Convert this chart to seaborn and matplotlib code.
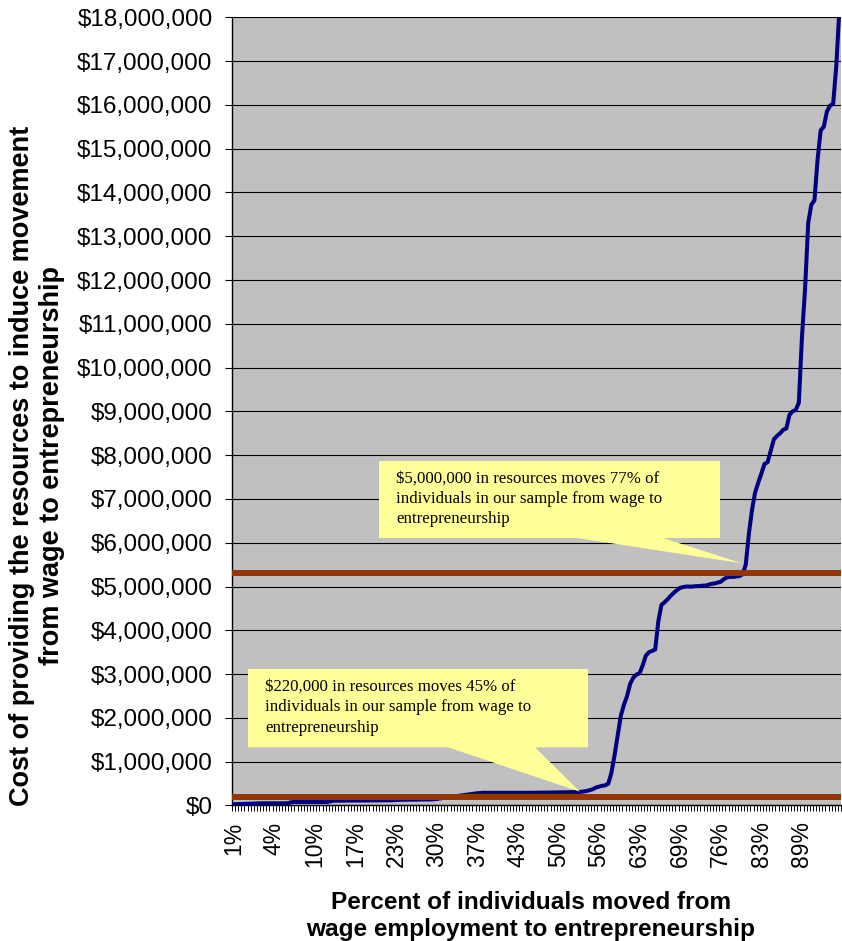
import matplotlib
matplotlib.use("Agg")
import matplotlib.pyplot as plt
from matplotlib.patches import Polygon
from matplotlib.ticker import FuncFormatter, FixedLocator
import seaborn as sns
import numpy as np
import pandas as pd

# ---------------- data ----------------
n_categories = 195
tick_label_positions = [0, 13, 26, 39, 52, 65, 78, 91, 104, 117, 130, 143, 156, 169, 182]
tick_labels = ["1%", "4%", "10%", "17%", "23%", "30%", "37%", "43%", "50%",
               "56%", "63%", "69%", "76%", "83%", "89%"]

low_idx = [0, 9, 17, 19, 30, 32, 51, 53, 64, 66, 72, 78, 80, 95, 105, 111, 113]
low_cost_m = [0.03, 0.05, 0.05, 0.08, 0.08, 0.11, 0.12, 0.13, 0.14, 0.16, 0.22,
              0.28, 0.29, 0.29, 0.30, 0.31, 0.33]
high_idx = list(range(115, 195))
high_cost_m = [0.37, 0.41, 0.43, 0.45, 0.46, 0.50, 0.75, 1.15, 1.60, 2.05,
               2.30, 2.50, 2.78, 2.92, 2.99, 3.02, 3.20, 3.42, 3.50, 3.53,
               3.56, 4.20, 4.58, 4.64, 4.71, 4.79, 4.86, 4.92, 4.97, 4.99,
               5.00, 5.00, 5.00, 5.01, 5.01, 5.02, 5.02, 5.04, 5.06, 5.07,
               5.09, 5.11, 5.17, 5.21, 5.22, 5.22, 5.23, 5.24, 5.28, 5.50,
               6.20, 6.75, 7.15, 7.37, 7.58, 7.80, 7.84, 8.10, 8.36, 8.44,
               8.50, 8.58, 8.61, 8.92, 9.00, 9.03, 9.20, 10.70, 11.80, 13.30,
               13.72, 13.82, 14.75, 15.42, 15.50, 15.85, 15.98, 16.03, 16.90, 18.20]

ref_lines = [200_000, 5_300_000]

note_high = "\\$5,000,000 in resources moves 77% of\nindividuals in our sample from wage to\nentrepreneurship"
note_low = "\\$220,000 in resources moves 45% of\nindividuals in our sample from wage to\nentrepreneurship"
y_title = "Cost of providing the resources to induce movement\nfrom wage to entrepreneurship"
x_title = "Percent of individuals moved from\nwage employment to entrepreneurship"

df = pd.DataFrame({
    "idx": low_idx + high_idx,
    "cost": np.array(low_cost_m + high_cost_m) * 1_000_000,
})

# ---------------- plot ----------------
sns.set_style("ticks")
plt.rcParams["font.family"] = ["Liberation Sans", "DejaVu Sans"]
plt.rcParams["text.color"] = "black"
plt.rcParams["xtick.color"] = "black"
plt.rcParams["ytick.color"] = "black"
plt.rcParams["axes.labelcolor"] = "black"

fig = plt.figure(figsize=(8.42, 9.41), dpi=100)
ax = fig.add_axes([0.27553, 0.14400, 0.72328, 0.83762])
ax.set_facecolor("#C0C0C0")

ax.set_ylim(0, 18_000_000)
ax.set_xlim(-0.5, n_categories - 0.5)
ax.yaxis.set_major_locator(FixedLocator(np.arange(0, 18_000_001, 1_000_000)))
ax.yaxis.set_major_formatter(FuncFormatter(lambda v, p: "\\$" + f"{v:,.0f}"))
ax.grid(axis="y", color="black", linewidth=0.8, zorder=1)
ax.set_axisbelow(True)

sns.lineplot(data=df, x="idx", y="cost", ax=ax, color="#000080",
             linewidth=2.9, zorder=3, legend=False)

for v in ref_lines:
    ax.axhline(v, color="#993300", linewidth=4.3, zorder=4)

ax.set_xticks(tick_label_positions)
ax.set_xticklabels(tick_labels, rotation=90)
ax.set_xticks(np.arange(n_categories + 1) - 0.5, minor=True)
ax.tick_params(axis="x", which="major", length=0, pad=11.5, labelsize=16.5,
               labelcolor="black")
ax.tick_params(axis="x", which="minor", length=4.3, width=0.7, color="black")
ax.tick_params(axis="y", which="major", length=5, width=0.8, pad=9.0,
               labelsize=17.5, color="black", labelcolor="black")
ax.set_xlabel("")
ax.set_ylabel("")
for s in ["top", "right"]:
    ax.spines[s].set_visible(False)
for s in ["left", "bottom"]:
    ax.spines[s].set_color("black")
    ax.spines[s].set_linewidth(1.0)

# callouts (axes-fraction coordinates)
box_hi = [(0.2414, 0.3394), (0.5665, 0.3394), (0.8369, 0.3073), (0.7077, 0.3394),
          (0.8013, 0.3394), (0.8013, 0.4371), (0.2414, 0.4371)]
box_lo = [(0.0263, 0.0738), (0.3547, 0.0738), (0.5714, 0.0175), (0.4975, 0.0738),
          (0.5846, 0.0738), (0.5846, 0.1732), (0.0263, 0.1732)]
for verts in (box_hi, box_lo):
    ax.add_patch(Polygon(verts, closed=True, transform=ax.transAxes,
                         facecolor="#FFFF99", edgecolor="none", zorder=6,
                         clip_on=False))

ax.text(0.2693, 0.4245, note_high, transform=ax.transAxes, ha="left", va="top",
        fontsize=12.2, family=["Liberation Serif", "DejaVu Serif"],
        linespacing=1.32, zorder=7, color="black")
ax.text(0.0542, 0.1610, note_low, transform=ax.transAxes, ha="left", va="top",
        fontsize=12.2, family=["Liberation Serif", "DejaVu Serif"],
        linespacing=1.4, zorder=7, color="black")

fig.text(0.0445, 0.5048, y_title, rotation=90, ha="center", va="center",
         multialignment="center", fontsize=19.5, fontweight="bold",
         linespacing=1.2, color="black")
fig.text(0.6306, 0.0270, x_title, ha="center", va="center",
         multialignment="center", fontsize=17.6, fontweight="bold",
         linespacing=1.22, color="black")

fig.savefig("out.png", dpi=100)
